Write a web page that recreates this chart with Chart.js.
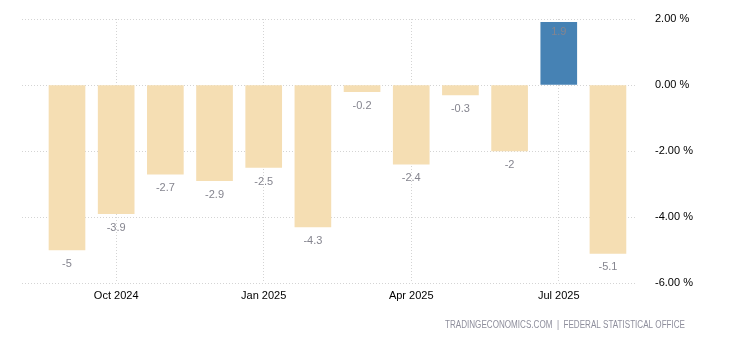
<!DOCTYPE html>
<html>
<head>
<meta charset="utf-8">
<script src="https://cdn.jsdelivr.net/npm/chart.js@4"></script>
<style>
  body { margin: 0; background: #fff; }
  #wrap { width: 730px; height: 340px; position: relative; }
</style>
</head>
<body>
<div id="wrap"><canvas id="grafica"></canvas></div>
<script>
// Datos de la gráfica
const meses = ["Sep 2024", "Oct 2024", "Nov 2024", "Dec 2024", "Jan 2025", "Feb 2025",
               "Mar 2025", "Apr 2025", "May 2025", "Jun 2025", "Jul 2025", "Aug 2025"];
const valores = [-5, -3.9, -2.7, -2.9, -2.5, -4.3, -0.2, -2.4, -0.3, -2, 1.9, -5.1];
const mesesEje = ["Oct 2024", "Jan 2025", "Apr 2025", "Jul 2025"];
const ticksY = [2, 0, -2, -4, -6];
const fuente = "TRADINGECONOMICS.COM  |  FEDERAL STATISTICAL OFFICE";

const colorGrid = "#d4d4d4";
const familia = "'Liberation Sans', Arial, sans-serif";

// Etiquetas de valor en cada barra
const etiquetas = {
    id: "etiquetas",
    afterDatasetsDraw(chart) {
        const ctx = chart.ctx;
        const meta = chart.getDatasetMeta(0);
        ctx.save();
        ctx.font = "11px " + familia;
        ctx.fillStyle = "#85858f";
        ctx.textAlign = "center";
        ctx.textBaseline = "middle";
        meta.data.forEach((barra, i) => {
            const v = valores[i];
            const y = v < 0 ? barra.y + 14 : barra.y + 10;
            ctx.fillText(String(v), barra.x, y);
        });
        ctx.restore();
    }
};

// Texto de la fuente abajo a la derecha
const pie = {
    id: "pie",
    afterDraw(chart) {
        const ctx = chart.ctx;
        ctx.save();
        ctx.font = "10px " + familia;
        ctx.fillStyle = "#8e8e9c";
        ctx.textAlign = "right";
        ctx.textBaseline = "middle";
        ctx.fillText(fuente, 685, 325, 240);
        ctx.restore();
    }
};

new Chart(document.getElementById("grafica"), {
    type: "bar",
    data: {
        datasets: [{
            data: valores.map((v, i) => ({ x: i, y: v })),
            backgroundColor: valores.map(v => v >= 0 ? "#4682b4" : "#f5deb3"),
            barThickness: 36,
            borderWidth: 0
        }]
    },
    options: {
        responsive: true,
        maintainAspectRatio: false,
        animation: false,
        layout: { padding: { left: 22, top: 19, right: 0, bottom: 0 } },
        plugins: {
            legend: { display: false },
            tooltip: { enabled: false }
        },
        scales: {
            x: {
                type: "linear",
                offset: false,
                min: -0.915,
                max: 11.55,
                afterBuildTicks: (s) => {
                    s.ticks = mesesEje.map(m => ({ value: meses.indexOf(m) }));
                },
                afterFit: (s) => { s.height = 57; },
                ticks: {
                    autoSkip: false,
                    maxRotation: 0,
                    padding: 6,
                    color: "#000",
                    font: { size: 11, family: familia },
                    callback: (v) => meses[v]
                },
                grid: { color: colorGrid, drawTicks: false, offset: false },
                border: { display: false, dash: [1, 2] }
            },
            y: {
                position: "right",
                min: -6,
                max: 2,
                afterBuildTicks: (s) => {
                    s.ticks = ticksY.map(v => ({ value: v }));
                },
                afterFit: (s) => { s.width = 95; },
                ticks: {
                    padding: 0,
                    color: "#000",
                    font: { size: 11, family: familia },
                    callback: (v) => v.toFixed(2) + " %"
                },
                grid: { color: colorGrid, drawTicks: true, tickLength: 20, tickColor: "transparent" },
                border: { display: false, dash: [1, 2] }
            }
        }
    },
    plugins: [etiquetas, pie]
});
</script>
</body>
</html>
